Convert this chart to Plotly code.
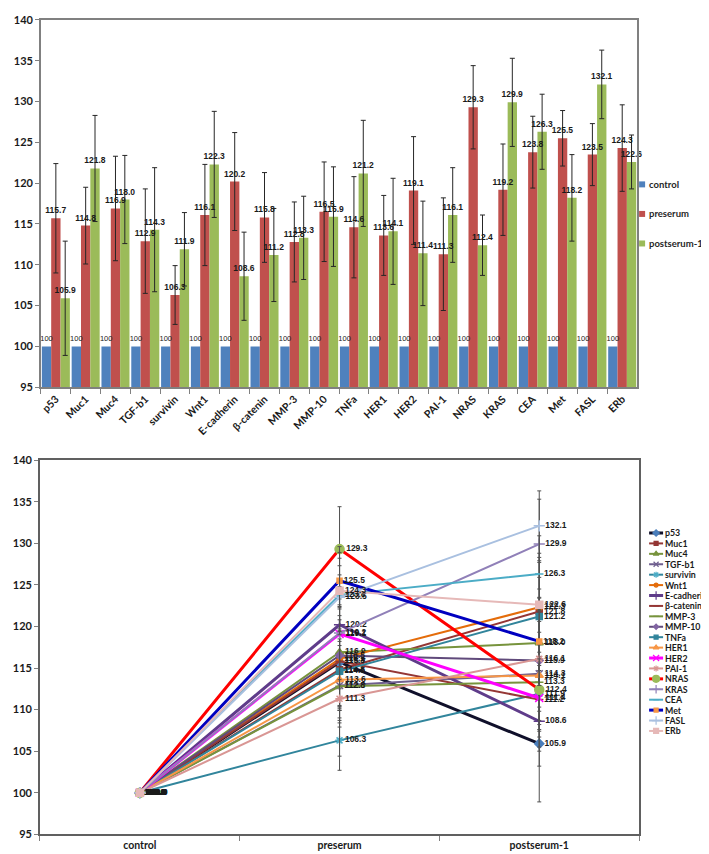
import plotly.graph_objects as go

# ---------------- data ----------------
genes = ["p53", "Muc1", "Muc4", "TGF-b1", "survivin", "Wnt1", "E-cadherin", "β-catenin",
         "MMP-3", "MMP-10", "TNFa", "HER1", "HER2", "PAI-1", "NRAS", "KRAS", "CEA",
         "Met", "FASL", "ERb"]
control = [100, 100, 100, 100, 100, 100, 100, 100, 100, 100,
           100, 100, 100, 100, 100, 100, 100, 100, 100, 100]
preserum = [115.7, 114.8, 116.9, 112.9, 106.3, 116.1, 120.2, 115.8, 112.8, 116.5,
            114.6, 113.6, 119.1, 111.3, 129.3, 119.2, 123.8, 125.5, 123.5, 124.3]
postserum = [105.9, 121.8, 118.0, 114.3, 111.9, 122.3, 108.6, 111.2, 113.3, 115.9,
             121.2, 114.1, 111.4, 116.1, 112.4, 129.9, 126.3, 118.2, 132.1, 122.6]
pre_err = [6.7, 4.7, 6.4, 6.4, 3.6, 6.2, 6.0, 5.5, 4.9, 6.1,
           6.2, 4.9, 6.6, 6.9, 5.1, 5.6, 4.4, 3.4, 3.8, 5.3]
post_err = [7.0, 6.5, 5.4, 7.6, 4.5, 6.5, 5.4, 5.7, 5.1, 6.1,
            6.5, 6.5, 6.4, 5.8, 3.7, 5.4, 4.6, 5.3, 4.2, 3.3]
groups = ["control", "preserum", "postserum-1"]
y_ticks = [95, 100, 105, 110, 115, 120, 125, 130, 135, 140]

# ---------------- styles ----------------
bar_colors = ["#4F81BD", "#C0504D", "#9BBB59"]
line_colors = ["#10102a", "#943634", "#77933C", "#6f5f8f", "#31859C", "#E46C0A", "#5f3c8a",
               "#953735", "#77933C", "#604A7B", "#31849B", "#F79646", "#FF00FF", "#D99694",
               "#FF0000", "#9080b8", "#4BACC6", "#0000C0", "#A9C0E0", "#E6B9B8"]
marker_colors = ["#4A7EBB", "#943634", "#77933C", "#6f5f8f", "#4BACC6", "#E46C0A", "#5f3c8a",
                 "#953735", "#77933C", "#8064A2", "#31849B", "#F79646", "#FF00FF", "#D99694",
                 "#9BBB59", "#9080b8", "#4BACC6", "#F79646", "#A9C0E0", "#E6B9B8"]
symbols = ["diamond", "square", "triangle-up", "x-thin-open", "asterisk-open", "circle",
           "cross-thin-open", "line-ew-open", "line-ew-open", "diamond", "square", "triangle-up",
           "x-thin-open", "asterisk-open", "circle", "cross-thin-open", "line-ew-open", "square",
           "cross-thin-open", "square"]
msizes = [7, 6, 7, 7, 7, 6, 8, 6, 6, 6, 6, 7, 8, 7, 9, 8, 6, 5, 8, 7]
lwidths = [3, 2, 2, 2, 2, 2, 3, 2, 2, 2, 2, 2, 3, 2, 3, 2, 2, 3, 2, 2]

FONT = "Lato, Liberation Sans, Arial, sans-serif"
LFONT = "Liberation Sans, Arial, sans-serif"
axis_line = "#808080"

fig = go.Figure()

# ---------------- top: grouped bars ----------------
bar_series = [("control", control, None, "%{y:.0f}"),
              ("preserum", preserum, pre_err, "%{y:.1f}"),
              ("postserum-1", postserum, post_err, "%{y:.1f}")]
for (name, vals, err, tmpl), col in zip(bar_series, bar_colors):
    fig.add_trace(go.Bar(
        x=genes, y=vals, name=name, marker=dict(color=col, line=dict(width=0)),
        error_y=(dict(type="data", array=err, color="#262626", thickness=1, width=2.5)
                 if err is not None else None),
        xaxis="x", yaxis="y", showlegend=False))

# value labels drawn on an overlaying copy of the axis so they sit above every bar
for k, ((name, vals, err, tmpl), col) in enumerate(zip(bar_series, bar_colors)):
    fig.add_trace(go.Bar(
        x=genes, y=vals, name=name + " labels",
        marker=dict(color="rgba(0,0,0,0)", line=dict(width=0)),
        texttemplate=tmpl, textposition="outside", constraintext="none", cliponaxis=False,
        textfont=dict(family=LFONT, size=7.5 if k == 0 else 8.5, color="#1a1a1a",
                      weight="normal" if k == 0 else "bold"),
        xaxis="x4", yaxis="y", showlegend=False, hoverinfo="skip"))

# ---------------- bottom: lines ----------------
for i, g in enumerate(genes):
    vals = [control[i], preserum[i], postserum[i]]
    fig.add_trace(go.Scatter(
        x=groups, y=vals, name=g, mode="lines+markers+text",
        line=dict(color=line_colors[i], width=lwidths[i]),
        marker=dict(symbol=symbols[i], size=msizes[i], color=marker_colors[i],
                    line=dict(color=marker_colors[i], width=1.5)),
        text=[f"{v:.1f}" for v in vals], textposition="middle right",
        textfont=dict(family=LFONT, size=8.5, color="#1a1a1a", weight="bold"),
        error_y=dict(type="data", array=[0, pre_err[i], post_err[i]],
                     color="#505050", thickness=1, width=2),
        xaxis="x2", yaxis="y2", showlegend=False))

# ---------------- custom legends (overlay axis in pixel units) ----------------
annotations = []
for k, (name, col) in enumerate(zip([s[0] for s in bar_series], bar_colors)):
    yy = 172 + 30 * k
    fig.add_trace(go.Scatter(x=[634], y=[yy], mode="markers",
                             marker=dict(symbol="square", size=6, color=col),
                             xaxis="x3", yaxis="y3", showlegend=False, hoverinfo="skip"))
    annotations.append(dict(x=639, y=yy, xref="x3", yref="y3", text=name, showarrow=False,
                            xanchor="left", yanchor="middle",
                            font=dict(family=FONT, size=9.5, color="#262626", weight="bold")))

for i, g in enumerate(genes):
    yy = 526 + 10.58 * i
    fig.add_trace(go.Scatter(x=[641, 648, 655], y=[yy, yy, yy], mode="lines",
                             line=dict(color=line_colors[i], width=lwidths[i]),
                             xaxis="x3", yaxis="y3", showlegend=False, hoverinfo="skip"))
    fig.add_trace(go.Scatter(x=[648], y=[yy], mode="markers",
                             marker=dict(symbol=symbols[i], size=max(msizes[i] - 2, 4),
                                         color=marker_colors[i],
                                         line=dict(color=marker_colors[i], width=1.2)),
                             xaxis="x3", yaxis="y3", showlegend=False, hoverinfo="skip"))
    annotations.append(dict(x=655, y=yy, xref="x3", yref="y3", text=g, showarrow=False,
                            xanchor="left", yanchor="middle",
                            font=dict(family=FONT, size=8.8, color="#1a1a1a", weight="bold")))

tickfont = dict(family=FONT, size=11, color="#1a1a1a", weight="bold")

fig.update_layout(
    width=709, height=854, margin=dict(l=0, r=0, t=0, b=0),
    paper_bgcolor="white", plot_bgcolor="rgba(0,0,0,0)",
    barmode="group", bargap=0.06, bargroupgap=0,
    showlegend=False, annotations=annotations,
    xaxis=dict(domain=[32 / 709, 629 / 709], anchor="y", type="category",
               tickangle=-45, tickfont=dict(family=FONT, size=10.5, color="#1a1a1a", weight="bold"),
               ticks="outside", ticklen=5, tickcolor=axis_line, tickson="boundaries",
               showline=True, linecolor=axis_line, linewidth=1.5, mirror=True,
               showgrid=False, range=[-0.5, 19.5]),
    xaxis4=dict(overlaying="x", matches="x", anchor="y", type="category",
                visible=False, showgrid=False, range=[-0.5, 19.5]),
    yaxis=dict(domain=[1 - 378 / 854, 1 - 5 / 854], anchor="x", range=[95, 140],
               tickvals=y_ticks, tickfont=tickfont, ticks="outside", ticklen=4,
               tickcolor=axis_line, showline=True, linecolor=axis_line, linewidth=1.5,
               mirror=True, showgrid=False, zeroline=False),
    xaxis2=dict(domain=[31 / 709, 631 / 709], anchor="y2", type="category",
                tickfont=dict(family=FONT, size=10.5, color="#1a1a1a", weight="bold"),
                ticks="outside", ticklen=5, tickcolor=axis_line, tickson="boundaries",
                showline=True, linecolor="#606060", linewidth=1.5, mirror=True,
                showgrid=False, range=[-0.5, 2.5]),
    yaxis2=dict(domain=[1 - 832 / 854, 1 - 452 / 854], anchor="x2", range=[95, 140],
                tickvals=y_ticks, tickfont=tickfont, ticks="outside", ticklen=4,
                tickcolor=axis_line, showline=True, linecolor="#606060", linewidth=1.5,
                mirror=True, showgrid=False, zeroline=False),
    xaxis3=dict(domain=[0, 1], anchor="y3", range=[0, 709], visible=False, fixedrange=True),
    yaxis3=dict(domain=[0, 1], anchor="x3", range=[854, 0], visible=False, fixedrange=True),
)

fig.write_html("out.html")
